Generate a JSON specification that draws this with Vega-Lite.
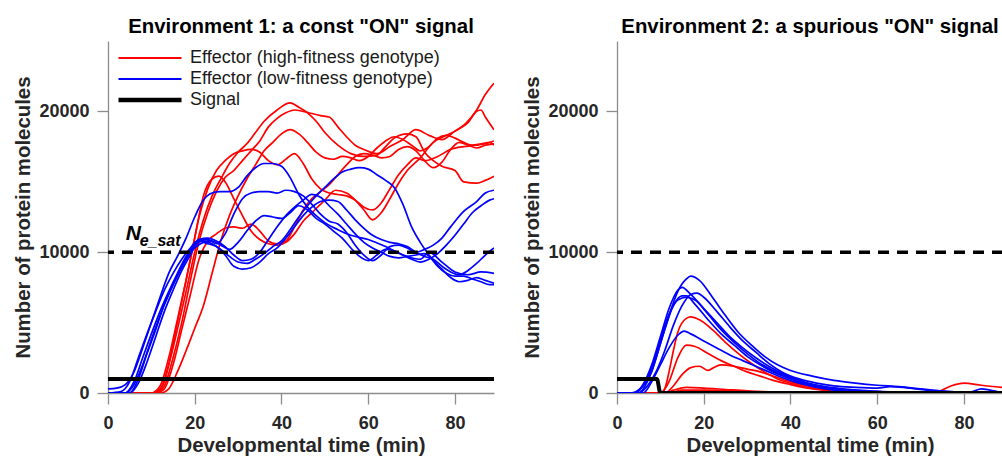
{
  "$schema": "https://vega.github.io/schema/vega-lite/v6.json",
  "padding": {"left": 13, "top": 16, "right": 0, "bottom": 0},
  "spacing": 26,
  "config": {
    "font": "Liberation Sans",
    "view": {"stroke": null},
    "axis": {
      "grid": false,
      "domainColor": "#8c8c8c",
      "domainWidth": 1.3,
      "tickColor": "#8c8c8c",
      "tickWidth": 1.3,
      "tickSize": 11,
      "labelFont": "Liberation Sans",
      "labelFontSize": 18,
      "labelFontWeight": "bold",
      "labelColor": "#262626",
      "labelFlush": false,
      "labelOverlap": false,
      "titleFont": "Liberation Sans",
      "titleFontSize": 20.4,
      "titleFontWeight": "bold",
      "titleColor": "#262626"
    },
    "title": {"font": "Liberation Sans", "fontSize": 20.4, "fontWeight": "bold", "color": "#000000", "offset": 4}
  },
  "resolve": {"scale": {"color": "independent"}, "legend": {"color": "independent"}},
  "datasets": {
    "env1": [
      {"s":"hi","k":"r1","t":0,"n":0},{"s":"hi","k":"r1","t":10,"n":0},{"s":"hi","k":"r1","t":12,"n":300},{"s":"hi","k":"r1","t":14,"n":2000},{"s":"hi","k":"r1","t":16,"n":4500},{"s":"hi","k":"r1","t":18,"n":7200},{"s":"hi","k":"r1","t":20,"n":10000},{"s":"hi","k":"r1","t":22,"n":12300},{"s":"hi","k":"r1","t":24,"n":14000},{"s":"hi","k":"r1","t":26,"n":15200},{"s":"hi","k":"r1","t":28,"n":16300},{"s":"hi","k":"r1","t":30,"n":17100},{"s":"hi","k":"r1","t":32,"n":17700},{"s":"hi","k":"r1","t":34,"n":18500},{"s":"hi","k":"r1","t":36,"n":19300},{"s":"hi","k":"r1","t":39,"n":20100},{"s":"hi","k":"r1","t":42,"n":20600},{"s":"hi","k":"r1","t":44,"n":20300},{"s":"hi","k":"r1","t":46,"n":19900},{"s":"hi","k":"r1","t":48,"n":19300},{"s":"hi","k":"r1","t":50,"n":18500},{"s":"hi","k":"r1","t":53,"n":17600},{"s":"hi","k":"r1","t":56,"n":17000},{"s":"hi","k":"r1","t":59,"n":16800},{"s":"hi","k":"r1","t":62,"n":16900},{"s":"hi","k":"r1","t":64,"n":17500},{"s":"hi","k":"r1","t":66,"n":18100},{"s":"hi","k":"r1","t":69,"n":18400},{"s":"hi","k":"r1","t":71,"n":18200},{"s":"hi","k":"r1","t":73,"n":17100},{"s":"hi","k":"r1","t":75,"n":16500},{"s":"hi","k":"r1","t":77,"n":16100},{"s":"hi","k":"r1","t":80,"n":15800},{"s":"hi","k":"r1","t":82,"n":15000},{"s":"hi","k":"r1","t":85,"n":14900},{"s":"hi","k":"r1","t":87,"n":15100},{"s":"hi","k":"r1","t":89,"n":15400},
      {"s":"hi","k":"r2","t":0,"n":0},{"s":"hi","k":"r2","t":11,"n":0},{"s":"hi","k":"r2","t":13,"n":500},{"s":"hi","k":"r2","t":15,"n":2500},{"s":"hi","k":"r2","t":17,"n":5000},{"s":"hi","k":"r2","t":19,"n":8000},{"s":"hi","k":"r2","t":21,"n":10800},{"s":"hi","k":"r2","t":23,"n":12800},{"s":"hi","k":"r2","t":25,"n":14300},{"s":"hi","k":"r2","t":27,"n":15300},{"s":"hi","k":"r2","t":29,"n":15800},{"s":"hi","k":"r2","t":31,"n":16500},{"s":"hi","k":"r2","t":33,"n":17200},{"s":"hi","k":"r2","t":35,"n":17900},{"s":"hi","k":"r2","t":37,"n":18900},{"s":"hi","k":"r2","t":39,"n":19500},{"s":"hi","k":"r2","t":41,"n":19900},{"s":"hi","k":"r2","t":43,"n":20100},{"s":"hi","k":"r2","t":45,"n":20000},{"s":"hi","k":"r2","t":47,"n":19850},{"s":"hi","k":"r2","t":49,"n":19700},{"s":"hi","k":"r2","t":51,"n":19600},{"s":"hi","k":"r2","t":53,"n":18900},{"s":"hi","k":"r2","t":55,"n":18200},{"s":"hi","k":"r2","t":57,"n":17600},{"s":"hi","k":"r2","t":59,"n":17300},{"s":"hi","k":"r2","t":62,"n":17000},{"s":"hi","k":"r2","t":65,"n":17500},{"s":"hi","k":"r2","t":68,"n":18000},{"s":"hi","k":"r2","t":71,"n":18700},{"s":"hi","k":"r2","t":74,"n":18300},{"s":"hi","k":"r2","t":77,"n":18000},{"s":"hi","k":"r2","t":80,"n":18600},{"s":"hi","k":"r2","t":83,"n":19200},{"s":"hi","k":"r2","t":85,"n":20000},{"s":"hi","k":"r2","t":86,"n":20100},{"s":"hi","k":"r2","t":87,"n":19600},{"s":"hi","k":"r2","t":89,"n":18700},
      {"s":"hi","k":"r3","t":0,"n":0},{"s":"hi","k":"r3","t":10,"n":0},{"s":"hi","k":"r3","t":12,"n":500},{"s":"hi","k":"r3","t":14,"n":2500},{"s":"hi","k":"r3","t":16,"n":5200},{"s":"hi","k":"r3","t":18,"n":8000},{"s":"hi","k":"r3","t":20,"n":11000},{"s":"hi","k":"r3","t":22,"n":14000},{"s":"hi","k":"r3","t":24,"n":15200},{"s":"hi","k":"r3","t":25.5,"n":15400},{"s":"hi","k":"r3","t":27,"n":15000},{"s":"hi","k":"r3","t":29,"n":13800},{"s":"hi","k":"r3","t":31,"n":12600},{"s":"hi","k":"r3","t":33,"n":11500},{"s":"hi","k":"r3","t":35,"n":10900},{"s":"hi","k":"r3","t":37,"n":10600},{"s":"hi","k":"r3","t":39,"n":10500},{"s":"hi","k":"r3","t":41,"n":10700},{"s":"hi","k":"r3","t":43,"n":11300},{"s":"hi","k":"r3","t":45,"n":12200},{"s":"hi","k":"r3","t":47,"n":12800},{"s":"hi","k":"r3","t":50,"n":13700},{"s":"hi","k":"r3","t":52.5,"n":14400},{"s":"hi","k":"r3","t":55,"n":14200},{"s":"hi","k":"r3","t":57,"n":13700},{"s":"hi","k":"r3","t":59,"n":13000},{"s":"hi","k":"r3","t":61,"n":12300},{"s":"hi","k":"r3","t":63,"n":12800},{"s":"hi","k":"r3","t":65,"n":13800},{"s":"hi","k":"r3","t":67,"n":14900},{"s":"hi","k":"r3","t":69,"n":15800},{"s":"hi","k":"r3","t":72,"n":16700},{"s":"hi","k":"r3","t":75,"n":17800},{"s":"hi","k":"r3","t":78,"n":18300},{"s":"hi","k":"r3","t":80,"n":18600},{"s":"hi","k":"r3","t":82.5,"n":19150},{"s":"hi","k":"r3","t":85,"n":20100},{"s":"hi","k":"r3","t":87,"n":21200},{"s":"hi","k":"r3","t":89,"n":22000},
      {"s":"hi","k":"r4","t":0,"n":0},{"s":"hi","k":"r4","t":11,"n":0},{"s":"hi","k":"r4","t":13,"n":800},{"s":"hi","k":"r4","t":15,"n":3500},{"s":"hi","k":"r4","t":17,"n":6500},{"s":"hi","k":"r4","t":19,"n":9500},{"s":"hi","k":"r4","t":21,"n":12500},{"s":"hi","k":"r4","t":23,"n":14500},{"s":"hi","k":"r4","t":25,"n":15800},{"s":"hi","k":"r4","t":27,"n":16500},{"s":"hi","k":"r4","t":29,"n":17000},{"s":"hi","k":"r4","t":31,"n":17200},{"s":"hi","k":"r4","t":33,"n":17300},{"s":"hi","k":"r4","t":35,"n":17100},{"s":"hi","k":"r4","t":37,"n":16500},{"s":"hi","k":"r4","t":39,"n":16200},{"s":"hi","k":"r4","t":41,"n":16600},{"s":"hi","k":"r4","t":43,"n":17000},{"s":"hi","k":"r4","t":45,"n":16300},{"s":"hi","k":"r4","t":47,"n":15200},{"s":"hi","k":"r4","t":49,"n":14500},{"s":"hi","k":"r4","t":51,"n":14200},{"s":"hi","k":"r4","t":53,"n":14100},{"s":"hi","k":"r4","t":55,"n":14000},{"s":"hi","k":"r4","t":57,"n":13700},{"s":"hi","k":"r4","t":59,"n":13200},{"s":"hi","k":"r4","t":61,"n":13000},{"s":"hi","k":"r4","t":63,"n":13500},{"s":"hi","k":"r4","t":65,"n":14500},{"s":"hi","k":"r4","t":67,"n":15500},{"s":"hi","k":"r4","t":69,"n":16200},{"s":"hi","k":"r4","t":71,"n":16700},{"s":"hi","k":"r4","t":73,"n":16500},{"s":"hi","k":"r4","t":76,"n":16800},{"s":"hi","k":"r4","t":79,"n":17300},{"s":"hi","k":"r4","t":82,"n":17500},{"s":"hi","k":"r4","t":85,"n":17600},{"s":"hi","k":"r4","t":87,"n":17700},{"s":"hi","k":"r4","t":89,"n":17900},
      {"s":"hi","k":"r5","t":0,"n":0},{"s":"hi","k":"r5","t":11,"n":0},{"s":"hi","k":"r5","t":13,"n":300},{"s":"hi","k":"r5","t":15,"n":2000},{"s":"hi","k":"r5","t":17,"n":4500},{"s":"hi","k":"r5","t":19,"n":7000},{"s":"hi","k":"r5","t":21,"n":9500},{"s":"hi","k":"r5","t":23,"n":10800},{"s":"hi","k":"r5","t":25,"n":11300},{"s":"hi","k":"r5","t":27,"n":11700},{"s":"hi","k":"r5","t":29,"n":11800},{"s":"hi","k":"r5","t":31,"n":11700},{"s":"hi","k":"r5","t":33,"n":12000},{"s":"hi","k":"r5","t":35,"n":11500},{"s":"hi","k":"r5","t":37,"n":10800},{"s":"hi","k":"r5","t":38.8,"n":10600},{"s":"hi","k":"r5","t":41,"n":10800},{"s":"hi","k":"r5","t":43,"n":11800},{"s":"hi","k":"r5","t":45,"n":13000},{"s":"hi","k":"r5","t":47,"n":13800},{"s":"hi","k":"r5","t":49,"n":14300},{"s":"hi","k":"r5","t":51,"n":14800},{"s":"hi","k":"r5","t":53,"n":15500},{"s":"hi","k":"r5","t":55,"n":16200},{"s":"hi","k":"r5","t":57,"n":16800},{"s":"hi","k":"r5","t":59,"n":17000},{"s":"hi","k":"r5","t":61,"n":16900},{"s":"hi","k":"r5","t":63,"n":16700},{"s":"hi","k":"r5","t":65,"n":16800},{"s":"hi","k":"r5","t":67,"n":17300},{"s":"hi","k":"r5","t":69,"n":17500},{"s":"hi","k":"r5","t":71,"n":17200},{"s":"hi","k":"r5","t":73,"n":16500},{"s":"hi","k":"r5","t":75,"n":16000},{"s":"hi","k":"r5","t":77,"n":16400},{"s":"hi","k":"r5","t":79,"n":17300},{"s":"hi","k":"r5","t":81,"n":17800},{"s":"hi","k":"r5","t":83,"n":17600},{"s":"hi","k":"r5","t":85,"n":17400},{"s":"hi","k":"r5","t":87,"n":17600},{"s":"hi","k":"r5","t":89,"n":17700},
      {"s":"hi","k":"r6","t":0,"n":0},{"s":"hi","k":"r6","t":12,"n":0},{"s":"hi","k":"r6","t":14,"n":300},{"s":"hi","k":"r6","t":16,"n":1500},{"s":"hi","k":"r6","t":18,"n":3000},{"s":"hi","k":"r6","t":20,"n":4600},{"s":"hi","k":"r6","t":22,"n":6200},{"s":"hi","k":"r6","t":24,"n":8500},{"s":"hi","k":"r6","t":26,"n":10800},{"s":"hi","k":"r6","t":28,"n":12600},{"s":"hi","k":"r6","t":30,"n":14000},{"s":"hi","k":"r6","t":32,"n":15200},{"s":"hi","k":"r6","t":34,"n":16200},{"s":"hi","k":"r6","t":36,"n":17200},{"s":"hi","k":"r6","t":38,"n":17800},{"s":"hi","k":"r6","t":40,"n":18400},{"s":"hi","k":"r6","t":42,"n":18700},{"s":"hi","k":"r6","t":44,"n":18400},{"s":"hi","k":"r6","t":46,"n":17800},{"s":"hi","k":"r6","t":48,"n":17100},{"s":"hi","k":"r6","t":50,"n":16700},{"s":"hi","k":"r6","t":52,"n":16600},{"s":"hi","k":"r6","t":54,"n":16800},{"s":"hi","k":"r6","t":56,"n":16700},{"s":"hi","k":"r6","t":58,"n":16500},{"s":"hi","k":"r6","t":60,"n":16800},{"s":"hi","k":"r6","t":62,"n":17400},{"s":"hi","k":"r6","t":64,"n":17900},{"s":"hi","k":"r6","t":66,"n":18200},{"s":"hi","k":"r6","t":68,"n":18000},{"s":"hi","k":"r6","t":70,"n":17600},{"s":"hi","k":"r6","t":72,"n":17200},{"s":"hi","k":"r6","t":74,"n":17500},{"s":"hi","k":"r6","t":76,"n":18100},{"s":"hi","k":"r6","t":78,"n":18300},{"s":"hi","k":"r6","t":80,"n":18100},{"s":"hi","k":"r6","t":82,"n":17800},{"s":"hi","k":"r6","t":84,"n":17600},{"s":"hi","k":"r6","t":86,"n":17700},{"s":"hi","k":"r6","t":88,"n":17800},{"s":"hi","k":"r6","t":89,"n":17600},
      {"s":"lo","k":"b1","t":0,"n":300},{"s":"lo","k":"b1","t":2,"n":350},{"s":"lo","k":"b1","t":4,"n":600},{"s":"lo","k":"b1","t":6,"n":1500},{"s":"lo","k":"b1","t":8,"n":3200},{"s":"lo","k":"b1","t":10,"n":5000},{"s":"lo","k":"b1","t":12,"n":6800},{"s":"lo","k":"b1","t":14,"n":8500},{"s":"lo","k":"b1","t":16,"n":9700},{"s":"lo","k":"b1","t":18,"n":11000},{"s":"lo","k":"b1","t":20,"n":12500},{"s":"lo","k":"b1","t":22,"n":13700},{"s":"lo","k":"b1","t":24,"n":14200},{"s":"lo","k":"b1","t":26,"n":14300},{"s":"lo","k":"b1","t":28,"n":14300},{"s":"lo","k":"b1","t":30,"n":14600},{"s":"lo","k":"b1","t":32,"n":15400},{"s":"lo","k":"b1","t":34,"n":16000},{"s":"lo","k":"b1","t":36,"n":16300},{"s":"lo","k":"b1","t":38,"n":16300},{"s":"lo","k":"b1","t":40,"n":16100},{"s":"lo","k":"b1","t":42,"n":15300},{"s":"lo","k":"b1","t":44,"n":14100},{"s":"lo","k":"b1","t":46,"n":13200},{"s":"lo","k":"b1","t":48,"n":12600},{"s":"lo","k":"b1","t":50,"n":12100},{"s":"lo","k":"b1","t":53,"n":11600},{"s":"lo","k":"b1","t":56,"n":11200},{"s":"lo","k":"b1","t":60,"n":10900},{"s":"lo","k":"b1","t":64,"n":10400},{"s":"lo","k":"b1","t":68,"n":9800},{"s":"lo","k":"b1","t":72,"n":9500},{"s":"lo","k":"b1","t":74,"n":10000},{"s":"lo","k":"b1","t":77,"n":9300},{"s":"lo","k":"b1","t":80,"n":8600},{"s":"lo","k":"b1","t":83,"n":8400},{"s":"lo","k":"b1","t":86,"n":8600},{"s":"lo","k":"b1","t":89,"n":8500},
      {"s":"lo","k":"b2","t":0,"n":0},{"s":"lo","k":"b2","t":3,"n":100},{"s":"lo","k":"b2","t":5,"n":800},{"s":"lo","k":"b2","t":7,"n":2500},{"s":"lo","k":"b2","t":9,"n":4200},{"s":"lo","k":"b2","t":11,"n":5800},{"s":"lo","k":"b2","t":13,"n":7300},{"s":"lo","k":"b2","t":15,"n":8500},{"s":"lo","k":"b2","t":17,"n":9500},{"s":"lo","k":"b2","t":19,"n":10300},{"s":"lo","k":"b2","t":21,"n":10900},{"s":"lo","k":"b2","t":23,"n":10900},{"s":"lo","k":"b2","t":25,"n":10600},{"s":"lo","k":"b2","t":27,"n":11300},{"s":"lo","k":"b2","t":29,"n":12700},{"s":"lo","k":"b2","t":31,"n":13800},{"s":"lo","k":"b2","t":33,"n":14200},{"s":"lo","k":"b2","t":35,"n":14300},{"s":"lo","k":"b2","t":37,"n":14300},{"s":"lo","k":"b2","t":39,"n":14200},{"s":"lo","k":"b2","t":41,"n":14400},{"s":"lo","k":"b2","t":43,"n":14300},{"s":"lo","k":"b2","t":45,"n":14000},{"s":"lo","k":"b2","t":47,"n":13400},{"s":"lo","k":"b2","t":49,"n":12700},{"s":"lo","k":"b2","t":51,"n":12200},{"s":"lo","k":"b2","t":53,"n":12000},{"s":"lo","k":"b2","t":55,"n":11400},{"s":"lo","k":"b2","t":57,"n":10500},{"s":"lo","k":"b2","t":59,"n":9800},{"s":"lo","k":"b2","t":61,"n":9400},{"s":"lo","k":"b2","t":63,"n":9800},{"s":"lo","k":"b2","t":65,"n":10400},{"s":"lo","k":"b2","t":67,"n":10500},{"s":"lo","k":"b2","t":69,"n":10300},{"s":"lo","k":"b2","t":71,"n":10000},{"s":"lo","k":"b2","t":73,"n":10200},{"s":"lo","k":"b2","t":75,"n":10500},{"s":"lo","k":"b2","t":77,"n":11000},{"s":"lo","k":"b2","t":79,"n":11800},{"s":"lo","k":"b2","t":82,"n":12900},{"s":"lo","k":"b2","t":85,"n":13600},{"s":"lo","k":"b2","t":87,"n":14200},{"s":"lo","k":"b2","t":89,"n":14400},
      {"s":"lo","k":"b3","t":0,"n":0},{"s":"lo","k":"b3","t":4,"n":0},{"s":"lo","k":"b3","t":6,"n":800},{"s":"lo","k":"b3","t":8,"n":2500},{"s":"lo","k":"b3","t":10,"n":4200},{"s":"lo","k":"b3","t":12,"n":5800},{"s":"lo","k":"b3","t":14,"n":7200},{"s":"lo","k":"b3","t":16,"n":8500},{"s":"lo","k":"b3","t":18,"n":9700},{"s":"lo","k":"b3","t":20,"n":10500},{"s":"lo","k":"b3","t":22,"n":10800},{"s":"lo","k":"b3","t":24,"n":10600},{"s":"lo","k":"b3","t":26,"n":10200},{"s":"lo","k":"b3","t":28,"n":9700},{"s":"lo","k":"b3","t":30,"n":9300},{"s":"lo","k":"b3","t":32,"n":9200},{"s":"lo","k":"b3","t":34,"n":9500},{"s":"lo","k":"b3","t":36,"n":9900},{"s":"lo","k":"b3","t":38,"n":10400},{"s":"lo","k":"b3","t":40,"n":10800},{"s":"lo","k":"b3","t":42,"n":11600},{"s":"lo","k":"b3","t":44,"n":12500},{"s":"lo","k":"b3","t":46,"n":13300},{"s":"lo","k":"b3","t":48,"n":14000},{"s":"lo","k":"b3","t":50,"n":14600},{"s":"lo","k":"b3","t":52,"n":15200},{"s":"lo","k":"b3","t":54,"n":15700},{"s":"lo","k":"b3","t":56,"n":15900},{"s":"lo","k":"b3","t":58,"n":16000},{"s":"lo","k":"b3","t":60,"n":15900},{"s":"lo","k":"b3","t":62,"n":15500},{"s":"lo","k":"b3","t":64,"n":15100},{"s":"lo","k":"b3","t":66,"n":14600},{"s":"lo","k":"b3","t":68,"n":13400},{"s":"lo","k":"b3","t":70,"n":11800},{"s":"lo","k":"b3","t":72,"n":10700},{"s":"lo","k":"b3","t":74,"n":9800},{"s":"lo","k":"b3","t":76,"n":9000},{"s":"lo","k":"b3","t":78,"n":8500},{"s":"lo","k":"b3","t":80,"n":8300},{"s":"lo","k":"b3","t":82,"n":8300},{"s":"lo","k":"b3","t":84,"n":8100},{"s":"lo","k":"b3","t":86,"n":7900},{"s":"lo","k":"b3","t":88,"n":7700},{"s":"lo","k":"b3","t":89,"n":7700},
      {"s":"lo","k":"b4","t":0,"n":0},{"s":"lo","k":"b4","t":4,"n":0},{"s":"lo","k":"b4","t":6,"n":600},{"s":"lo","k":"b4","t":8,"n":2000},{"s":"lo","k":"b4","t":10,"n":3800},{"s":"lo","k":"b4","t":12,"n":5500},{"s":"lo","k":"b4","t":14,"n":7000},{"s":"lo","k":"b4","t":16,"n":8300},{"s":"lo","k":"b4","t":18,"n":9500},{"s":"lo","k":"b4","t":20,"n":10300},{"s":"lo","k":"b4","t":22,"n":10700},{"s":"lo","k":"b4","t":24,"n":10800},{"s":"lo","k":"b4","t":26,"n":10500},{"s":"lo","k":"b4","t":28,"n":10200},{"s":"lo","k":"b4","t":30,"n":10700},{"s":"lo","k":"b4","t":32,"n":11500},{"s":"lo","k":"b4","t":34,"n":12200},{"s":"lo","k":"b4","t":36,"n":12600},{"s":"lo","k":"b4","t":38,"n":12500},{"s":"lo","k":"b4","t":40,"n":12400},{"s":"lo","k":"b4","t":42,"n":12800},{"s":"lo","k":"b4","t":44,"n":13300},{"s":"lo","k":"b4","t":46,"n":13000},{"s":"lo","k":"b4","t":48,"n":12400},{"s":"lo","k":"b4","t":50,"n":12000},{"s":"lo","k":"b4","t":52,"n":11500},{"s":"lo","k":"b4","t":54,"n":11000},{"s":"lo","k":"b4","t":56,"n":10300},{"s":"lo","k":"b4","t":58,"n":9700},{"s":"lo","k":"b4","t":60,"n":9400},{"s":"lo","k":"b4","t":62,"n":9800},{"s":"lo","k":"b4","t":64,"n":10200},{"s":"lo","k":"b4","t":66,"n":10100},{"s":"lo","k":"b4","t":68,"n":9800},{"s":"lo","k":"b4","t":70,"n":9500},{"s":"lo","k":"b4","t":72,"n":9300},{"s":"lo","k":"b4","t":74,"n":9500},{"s":"lo","k":"b4","t":76,"n":9900},{"s":"lo","k":"b4","t":78,"n":10500},{"s":"lo","k":"b4","t":80,"n":11200},{"s":"lo","k":"b4","t":82,"n":12000},{"s":"lo","k":"b4","t":84,"n":12800},{"s":"lo","k":"b4","t":86,"n":13300},{"s":"lo","k":"b4","t":88,"n":13700},{"s":"lo","k":"b4","t":89,"n":13800},
      {"s":"lo","k":"b5","t":0,"n":0},{"s":"lo","k":"b5","t":5,"n":0},{"s":"lo","k":"b5","t":7,"n":1000},{"s":"lo","k":"b5","t":9,"n":2800},{"s":"lo","k":"b5","t":11,"n":4500},{"s":"lo","k":"b5","t":13,"n":6300},{"s":"lo","k":"b5","t":15,"n":7700},{"s":"lo","k":"b5","t":17,"n":9000},{"s":"lo","k":"b5","t":19,"n":10000},{"s":"lo","k":"b5","t":21,"n":10800},{"s":"lo","k":"b5","t":23,"n":10600},{"s":"lo","k":"b5","t":25,"n":10400},{"s":"lo","k":"b5","t":27,"n":9800},{"s":"lo","k":"b5","t":29,"n":9000},{"s":"lo","k":"b5","t":31,"n":8800},{"s":"lo","k":"b5","t":33,"n":8900},{"s":"lo","k":"b5","t":35,"n":9300},{"s":"lo","k":"b5","t":37,"n":9900},{"s":"lo","k":"b5","t":39,"n":10300},{"s":"lo","k":"b5","t":41,"n":11000},{"s":"lo","k":"b5","t":43,"n":11800},{"s":"lo","k":"b5","t":45,"n":12600},{"s":"lo","k":"b5","t":47,"n":13200},{"s":"lo","k":"b5","t":49,"n":13600},{"s":"lo","k":"b5","t":51,"n":13700},{"s":"lo","k":"b5","t":53,"n":13600},{"s":"lo","k":"b5","t":55,"n":13000},{"s":"lo","k":"b5","t":57,"n":12300},{"s":"lo","k":"b5","t":59,"n":11700},{"s":"lo","k":"b5","t":61,"n":11200},{"s":"lo","k":"b5","t":63,"n":10900},{"s":"lo","k":"b5","t":65,"n":10700},{"s":"lo","k":"b5","t":67,"n":10600},{"s":"lo","k":"b5","t":69,"n":10400},{"s":"lo","k":"b5","t":71,"n":10000},{"s":"lo","k":"b5","t":73,"n":9700},{"s":"lo","k":"b5","t":75,"n":9500},{"s":"lo","k":"b5","t":77,"n":9000},{"s":"lo","k":"b5","t":79,"n":8600},{"s":"lo","k":"b5","t":81,"n":8400},{"s":"lo","k":"b5","t":83,"n":8700},{"s":"lo","k":"b5","t":85,"n":9200},{"s":"lo","k":"b5","t":87,"n":9800},{"s":"lo","k":"b5","t":89,"n":10300},
      {"s":"lo","k":"b6","t":0,"n":0},{"s":"lo","k":"b6","t":5,"n":0},{"s":"lo","k":"b6","t":7,"n":700},{"s":"lo","k":"b6","t":9,"n":2200},{"s":"lo","k":"b6","t":11,"n":4000},{"s":"lo","k":"b6","t":13,"n":5800},{"s":"lo","k":"b6","t":15,"n":7300},{"s":"lo","k":"b6","t":17,"n":8700},{"s":"lo","k":"b6","t":19,"n":9800},{"s":"lo","k":"b6","t":21,"n":10900},{"s":"lo","k":"b6","t":23,"n":11000},{"s":"lo","k":"b6","t":25,"n":10800},{"s":"lo","k":"b6","t":27,"n":10400},{"s":"lo","k":"b6","t":29,"n":9800},{"s":"lo","k":"b6","t":31,"n":9400},{"s":"lo","k":"b6","t":33,"n":9500},{"s":"lo","k":"b6","t":35,"n":10000},{"s":"lo","k":"b6","t":37,"n":10900},{"s":"lo","k":"b6","t":39,"n":11800},{"s":"lo","k":"b6","t":41,"n":12600},{"s":"lo","k":"b6","t":43,"n":13200},{"s":"lo","k":"b6","t":45,"n":13700},{"s":"lo","k":"b6","t":47,"n":14100},{"s":"lo","k":"b6","t":49,"n":13900},{"s":"lo","k":"b6","t":51,"n":13300},{"s":"lo","k":"b6","t":53,"n":12700},{"s":"lo","k":"b6","t":55,"n":12000},{"s":"lo","k":"b6","t":57,"n":11300},{"s":"lo","k":"b6","t":59,"n":10700},{"s":"lo","k":"b6","t":61,"n":10300},{"s":"lo","k":"b6","t":63,"n":10000},{"s":"lo","k":"b6","t":65,"n":9700},{"s":"lo","k":"b6","t":67,"n":9600},{"s":"lo","k":"b6","t":69,"n":9700},{"s":"lo","k":"b6","t":71,"n":9800},{"s":"lo","k":"b6","t":73,"n":9900},{"s":"lo","k":"b6","t":75,"n":9400},{"s":"lo","k":"b6","t":77,"n":8800},{"s":"lo","k":"b6","t":79,"n":8200},{"s":"lo","k":"b6","t":81,"n":7900},{"s":"lo","k":"b6","t":83,"n":8000},{"s":"lo","k":"b6","t":85,"n":8200},{"s":"lo","k":"b6","t":87,"n":8000},{"s":"lo","k":"b6","t":89,"n":7800},
      {"s":"sig","k":"sg","t":0,"n":1000},{"s":"sig","k":"sg","t":89,"n":1000}
    ],
    "env2": [
      {"s":"hi","k":"r1","t":0,"n":0},{"s":"hi","k":"r1","t":10,"n":0},{"s":"hi","k":"r1","t":11,"n":300},{"s":"hi","k":"r1","t":12,"n":1500},{"s":"hi","k":"r1","t":13,"n":3000},{"s":"hi","k":"r1","t":14,"n":4300},{"s":"hi","k":"r1","t":16,"n":5300},{"s":"hi","k":"r1","t":17,"n":5400},{"s":"hi","k":"r1","t":19,"n":5200},{"s":"hi","k":"r1","t":22,"n":4500},{"s":"hi","k":"r1","t":25,"n":3600},{"s":"hi","k":"r1","t":28,"n":2800},{"s":"hi","k":"r1","t":31,"n":2100},{"s":"hi","k":"r1","t":34,"n":1500},{"s":"hi","k":"r1","t":37,"n":1000},{"s":"hi","k":"r1","t":40,"n":700},{"s":"hi","k":"r1","t":44,"n":400},{"s":"hi","k":"r1","t":48,"n":200},{"s":"hi","k":"r1","t":52,"n":100},{"s":"hi","k":"r1","t":60,"n":0},{"s":"hi","k":"r1","t":89,"n":0},
      {"s":"hi","k":"r2","t":0,"n":0},{"s":"hi","k":"r2","t":10,"n":0},{"s":"hi","k":"r2","t":12,"n":800},{"s":"hi","k":"r2","t":14,"n":2500},{"s":"hi","k":"r2","t":16,"n":3400},{"s":"hi","k":"r2","t":18,"n":3300},{"s":"hi","k":"r2","t":21,"n":2800},{"s":"hi","k":"r2","t":24,"n":2300},{"s":"hi","k":"r2","t":27,"n":1900},{"s":"hi","k":"r2","t":30,"n":1500},{"s":"hi","k":"r2","t":33,"n":1200},{"s":"hi","k":"r2","t":36,"n":900},{"s":"hi","k":"r2","t":40,"n":600},{"s":"hi","k":"r2","t":44,"n":350},{"s":"hi","k":"r2","t":48,"n":200},{"s":"hi","k":"r2","t":55,"n":50},{"s":"hi","k":"r2","t":60,"n":0},{"s":"hi","k":"r2","t":89,"n":0},
      {"s":"hi","k":"r3","t":0,"n":0},{"s":"hi","k":"r3","t":11,"n":0},{"s":"hi","k":"r3","t":13,"n":500},{"s":"hi","k":"r3","t":15,"n":1300},{"s":"hi","k":"r3","t":17,"n":1800},{"s":"hi","k":"r3","t":19,"n":1900},{"s":"hi","k":"r3","t":21,"n":1600},{"s":"hi","k":"r3","t":22,"n":1750},{"s":"hi","k":"r3","t":24,"n":2000},{"s":"hi","k":"r3","t":27,"n":1900},{"s":"hi","k":"r3","t":30,"n":1700},{"s":"hi","k":"r3","t":33,"n":1500},{"s":"hi","k":"r3","t":36,"n":1200},{"s":"hi","k":"r3","t":40,"n":800},{"s":"hi","k":"r3","t":44,"n":500},{"s":"hi","k":"r3","t":48,"n":250},{"s":"hi","k":"r3","t":52,"n":100},{"s":"hi","k":"r3","t":60,"n":0},{"s":"hi","k":"r3","t":89,"n":0},
      {"s":"hi","k":"r4","t":0,"n":0},{"s":"hi","k":"r4","t":11,"n":0},{"s":"hi","k":"r4","t":13,"n":200},{"s":"hi","k":"r4","t":16,"n":400},{"s":"hi","k":"r4","t":20,"n":350},{"s":"hi","k":"r4","t":25,"n":250},{"s":"hi","k":"r4","t":30,"n":150},{"s":"hi","k":"r4","t":40,"n":50},{"s":"hi","k":"r4","t":89,"n":0},
      {"s":"hi","k":"r5","t":0,"n":0},{"s":"hi","k":"r5","t":12,"n":0},{"s":"hi","k":"r5","t":15,"n":200},{"s":"hi","k":"r5","t":20,"n":200},{"s":"hi","k":"r5","t":30,"n":100},{"s":"hi","k":"r5","t":45,"n":0},{"s":"hi","k":"r5","t":89,"n":0},
      {"s":"hi","k":"r6","t":0,"n":0},{"s":"hi","k":"r6","t":12,"n":0},{"s":"hi","k":"r6","t":15,"n":100},{"s":"hi","k":"r6","t":20,"n":150},{"s":"hi","k":"r6","t":30,"n":80},{"s":"hi","k":"r6","t":40,"n":20},{"s":"hi","k":"r6","t":70,"n":0},{"s":"hi","k":"r6","t":74,"n":100},{"s":"hi","k":"r6","t":77,"n":500},{"s":"hi","k":"r6","t":80,"n":700},{"s":"hi","k":"r6","t":84,"n":550},{"s":"hi","k":"r6","t":89,"n":400},
      {"s":"lo","k":"b1","t":0,"n":0},{"s":"lo","k":"b1","t":3,"n":0},{"s":"lo","k":"b1","t":6,"n":500},{"s":"lo","k":"b1","t":8,"n":1500},{"s":"lo","k":"b1","t":10,"n":3500},{"s":"lo","k":"b1","t":12,"n":5500},{"s":"lo","k":"b1","t":14,"n":7200},{"s":"lo","k":"b1","t":16,"n":8100},{"s":"lo","k":"b1","t":17,"n":8300},{"s":"lo","k":"b1","t":19,"n":8000},{"s":"lo","k":"b1","t":22,"n":6800},{"s":"lo","k":"b1","t":25,"n":5500},{"s":"lo","k":"b1","t":28,"n":4300},{"s":"lo","k":"b1","t":31,"n":3400},{"s":"lo","k":"b1","t":34,"n":2600},{"s":"lo","k":"b1","t":37,"n":2000},{"s":"lo","k":"b1","t":40,"n":1600},{"s":"lo","k":"b1","t":45,"n":1200},{"s":"lo","k":"b1","t":50,"n":900},{"s":"lo","k":"b1","t":55,"n":700},{"s":"lo","k":"b1","t":60,"n":550},{"s":"lo","k":"b1","t":65,"n":450},{"s":"lo","k":"b1","t":70,"n":300},{"s":"lo","k":"b1","t":75,"n":150},{"s":"lo","k":"b1","t":80,"n":50},{"s":"lo","k":"b1","t":85,"n":20},{"s":"lo","k":"b1","t":89,"n":0},
      {"s":"lo","k":"b2","t":0,"n":0},{"s":"lo","k":"b2","t":4,"n":0},{"s":"lo","k":"b2","t":6,"n":600},{"s":"lo","k":"b2","t":8,"n":2000},{"s":"lo","k":"b2","t":10,"n":4000},{"s":"lo","k":"b2","t":12,"n":6000},{"s":"lo","k":"b2","t":14,"n":7300},{"s":"lo","k":"b2","t":15,"n":7500},{"s":"lo","k":"b2","t":17,"n":7000},{"s":"lo","k":"b2","t":20,"n":6000},{"s":"lo","k":"b2","t":23,"n":5000},{"s":"lo","k":"b2","t":26,"n":4000},{"s":"lo","k":"b2","t":29,"n":3200},{"s":"lo","k":"b2","t":32,"n":2500},{"s":"lo","k":"b2","t":35,"n":1900},{"s":"lo","k":"b2","t":38,"n":1400},{"s":"lo","k":"b2","t":42,"n":900},{"s":"lo","k":"b2","t":46,"n":500},{"s":"lo","k":"b2","t":50,"n":300},{"s":"lo","k":"b2","t":55,"n":150},{"s":"lo","k":"b2","t":60,"n":100},{"s":"lo","k":"b2","t":70,"n":50},{"s":"lo","k":"b2","t":80,"n":0},{"s":"lo","k":"b2","t":89,"n":0},
      {"s":"lo","k":"b3","t":0,"n":0},{"s":"lo","k":"b3","t":5,"n":0},{"s":"lo","k":"b3","t":7,"n":500},{"s":"lo","k":"b3","t":9,"n":1500},{"s":"lo","k":"b3","t":11,"n":3000},{"s":"lo","k":"b3","t":13,"n":4800},{"s":"lo","k":"b3","t":15,"n":6200},{"s":"lo","k":"b3","t":17,"n":7000},{"s":"lo","k":"b3","t":18.5,"n":7100},{"s":"lo","k":"b3","t":20,"n":6800},{"s":"lo","k":"b3","t":23,"n":5800},{"s":"lo","k":"b3","t":26,"n":4700},{"s":"lo","k":"b3","t":29,"n":3700},{"s":"lo","k":"b3","t":32,"n":2900},{"s":"lo","k":"b3","t":35,"n":2100},{"s":"lo","k":"b3","t":38,"n":1500},{"s":"lo","k":"b3","t":42,"n":1000},{"s":"lo","k":"b3","t":46,"n":700},{"s":"lo","k":"b3","t":50,"n":500},{"s":"lo","k":"b3","t":55,"n":400},{"s":"lo","k":"b3","t":60,"n":350},{"s":"lo","k":"b3","t":63,"n":450},{"s":"lo","k":"b3","t":66,"n":400},{"s":"lo","k":"b3","t":70,"n":250},{"s":"lo","k":"b3","t":75,"n":100},{"s":"lo","k":"b3","t":80,"n":50},{"s":"lo","k":"b3","t":89,"n":0},
      {"s":"lo","k":"b4","t":0,"n":0},{"s":"lo","k":"b4","t":5,"n":0},{"s":"lo","k":"b4","t":7,"n":800},{"s":"lo","k":"b4","t":9,"n":2500},{"s":"lo","k":"b4","t":11,"n":4500},{"s":"lo","k":"b4","t":13,"n":6200},{"s":"lo","k":"b4","t":15,"n":6900},{"s":"lo","k":"b4","t":16,"n":6900},{"s":"lo","k":"b4","t":18,"n":6300},{"s":"lo","k":"b4","t":21,"n":5200},{"s":"lo","k":"b4","t":24,"n":4200},{"s":"lo","k":"b4","t":27,"n":3400},{"s":"lo","k":"b4","t":30,"n":2600},{"s":"lo","k":"b4","t":33,"n":2000},{"s":"lo","k":"b4","t":36,"n":1500},{"s":"lo","k":"b4","t":40,"n":1000},{"s":"lo","k":"b4","t":44,"n":600},{"s":"lo","k":"b4","t":48,"n":400},{"s":"lo","k":"b4","t":52,"n":250},{"s":"lo","k":"b4","t":56,"n":150},{"s":"lo","k":"b4","t":60,"n":100},{"s":"lo","k":"b4","t":70,"n":50},{"s":"lo","k":"b4","t":80,"n":0},{"s":"lo","k":"b4","t":82,"n":100},{"s":"lo","k":"b4","t":84,"n":300},{"s":"lo","k":"b4","t":86,"n":200},{"s":"lo","k":"b4","t":89,"n":0},
      {"s":"lo","k":"b5","t":0,"n":0},{"s":"lo","k":"b5","t":6,"n":0},{"s":"lo","k":"b5","t":8,"n":800},{"s":"lo","k":"b5","t":10,"n":2000},{"s":"lo","k":"b5","t":12,"n":3200},{"s":"lo","k":"b5","t":14,"n":4100},{"s":"lo","k":"b5","t":15.5,"n":4400},{"s":"lo","k":"b5","t":17,"n":4200},{"s":"lo","k":"b5","t":20,"n":3700},{"s":"lo","k":"b5","t":23,"n":3200},{"s":"lo","k":"b5","t":26,"n":2700},{"s":"lo","k":"b5","t":29,"n":2300},{"s":"lo","k":"b5","t":32,"n":1900},{"s":"lo","k":"b5","t":35,"n":1500},{"s":"lo","k":"b5","t":38,"n":1100},{"s":"lo","k":"b5","t":42,"n":700},{"s":"lo","k":"b5","t":46,"n":400},{"s":"lo","k":"b5","t":50,"n":200},{"s":"lo","k":"b5","t":55,"n":100},{"s":"lo","k":"b5","t":60,"n":50},{"s":"lo","k":"b5","t":89,"n":0},
      {"s":"lo","k":"b6","t":0,"n":0},{"s":"lo","k":"b6","t":4,"n":0},{"s":"lo","k":"b6","t":6,"n":500},{"s":"lo","k":"b6","t":8,"n":1800},{"s":"lo","k":"b6","t":10,"n":3800},{"s":"lo","k":"b6","t":12,"n":5600},{"s":"lo","k":"b6","t":14,"n":6600},{"s":"lo","k":"b6","t":16,"n":6800},{"s":"lo","k":"b6","t":18,"n":6600},{"s":"lo","k":"b6","t":21,"n":5600},{"s":"lo","k":"b6","t":24,"n":4500},{"s":"lo","k":"b6","t":27,"n":3600},{"s":"lo","k":"b6","t":30,"n":2800},{"s":"lo","k":"b6","t":33,"n":2100},{"s":"lo","k":"b6","t":36,"n":1600},{"s":"lo","k":"b6","t":40,"n":1100},{"s":"lo","k":"b6","t":44,"n":700},{"s":"lo","k":"b6","t":48,"n":450},{"s":"lo","k":"b6","t":52,"n":300},{"s":"lo","k":"b6","t":56,"n":200},{"s":"lo","k":"b6","t":60,"n":120},{"s":"lo","k":"b6","t":70,"n":50},{"s":"lo","k":"b6","t":80,"n":0},{"s":"lo","k":"b6","t":89,"n":0},
      {"s":"sig","k":"sg","t":0,"n":1000},{"s":"sig","k":"sg","t":9.2,"n":1000},{"s":"sig","k":"sg","t":10,"n":0},{"s":"sig","k":"sg","t":89,"n":0}
    ]
  },
  "hconcat": [
    {
      "width": 386,
      "height": 352,
      "title": {"text": "Environment 1: a const \"ON\" signal"},
      "layer": [
        {
          "data": {"name": "env1"},
          "mark": {"type": "line", "interpolate": "monotone", "clip": true},
          "encoding": {
            "x": {"field": "t", "type": "quantitative", "scale": {"domain": [0, 89], "nice": false},
                  "axis": {"values": [0, 20, 40, 60, 80], "title": "Developmental time (min)", "labelPadding": 10, "titlePadding": 3}},
            "y": {"field": "n", "type": "quantitative", "scale": {"domain": [0, 25000], "nice": false},
                  "axis": {"values": [0, 10000, 20000], "format": "d", "title": "Number of protein molecules", "labelPadding": 8, "titlePadding": 5}},
            "detail": {"field": "k"},
            "color": {
              "field": "s", "type": "nominal",
              "scale": {"domain": ["hi", "lo", "sig"], "range": ["#ff0000", "#0000ff", "#000000"]},
              "legend": {
                "orient": "none", "legendX": 33, "legendY": 8, "title": null,
                "symbolType": "stroke", "symbolSize": 3969, "symbolStrokeWidth": 2,
                "labelFont": "Liberation Sans", "labelFontSize": 18, "labelColor": "#1a1a1a", "labelLimit": 400,
                "labelOffset": 31, "rowPadding": 3,
                "labelExpr": "datum.value === 'hi' ? 'Effector (high-fitness genotype)' : datum.value === 'lo' ? 'Effector (low-fitness genotype)' : 'Signal'",
                "encode": {"symbols": {"update": {"strokeWidth": {"signal": "datum.value === 'sig' ? 4.5 : 2"}}}}
              }
            },
            "strokeWidth": {"condition": {"test": "datum.s === 'sig'", "value": 4}, "value": 1.7}
          }
        },
        {
          "data": {"values": [{"n": 10000}]},
          "mark": {"type": "rule", "color": "#000000", "strokeWidth": 3.5, "strokeDash": [11, 8]},
          "encoding": {"y": {"field": "n", "type": "quantitative"}}
        },
        {
          "data": {"values": [{"t": 4.1, "n": 10850, "txt": "N"}]},
          "mark": {"type": "text", "font": "Liberation Sans", "fontWeight": "bold", "fontStyle": "italic", "fontSize": 21, "align": "left", "baseline": "alphabetic", "color": "#000000"},
          "encoding": {"x": {"field": "t", "type": "quantitative"}, "y": {"field": "n", "type": "quantitative"}, "text": {"field": "txt"}}
        },
        {
          "data": {"values": [{"t": 7.3, "n": 10420, "txt": "e_sat"}]},
          "mark": {"type": "text", "font": "Liberation Sans", "fontWeight": "bold", "fontStyle": "italic", "fontSize": 16, "align": "left", "baseline": "alphabetic", "color": "#000000"},
          "encoding": {"x": {"field": "t", "type": "quantitative"}, "y": {"field": "n", "type": "quantitative"}, "text": {"field": "txt"}}
        }
      ]
    },
    {
      "width": 386,
      "height": 352,
      "title": {"text": "Environment 2: a spurious \"ON\" signal"},
      "layer": [
        {
          "data": {"name": "env2"},
          "mark": {"type": "line", "interpolate": "monotone", "clip": true},
          "encoding": {
            "x": {"field": "t", "type": "quantitative", "scale": {"domain": [0, 89], "nice": false},
                  "axis": {"values": [0, 20, 40, 60, 80], "title": "Developmental time (min)", "labelPadding": 10, "titlePadding": 3}},
            "y": {"field": "n", "type": "quantitative", "scale": {"domain": [0, 25000], "nice": false},
                  "axis": {"values": [0, 10000, 20000], "format": "d", "title": "Number of protein molecules", "labelPadding": 8, "titlePadding": 5}},
            "detail": {"field": "k"},
            "color": {
              "field": "s", "type": "nominal",
              "scale": {"domain": ["hi", "lo", "sig"], "range": ["#ff0000", "#0000ff", "#000000"]},
              "legend": null
            },
            "strokeWidth": {"condition": {"test": "datum.s === 'sig'", "value": 4}, "value": 1.7}
          }
        },
        {
          "data": {"values": [{"n": 10000}]},
          "mark": {"type": "rule", "color": "#000000", "strokeWidth": 3.5, "strokeDash": [11, 8]},
          "encoding": {"y": {"field": "n", "type": "quantitative"}}
        }
      ]
    }
  ]
}
